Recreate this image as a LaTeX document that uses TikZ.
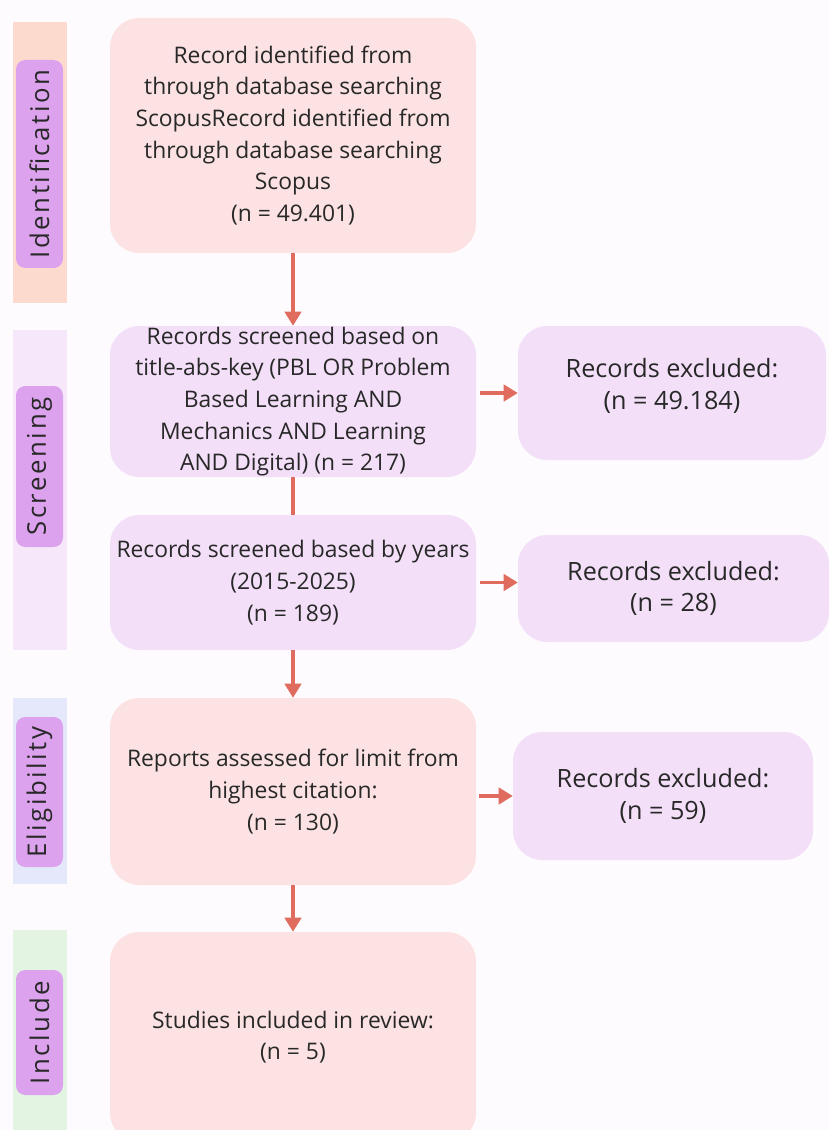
\documentclass[tikz,border=0pt]{standalone}
\usepackage{fontspec}
\setmainfont{Open Sans}
\newfontfamily\pillfont[LetterSpace=10]{Open Sans}
\usepackage{tikz}
\usetikzlibrary{arrows.meta}
\definecolor{pagebg}{RGB}{253,251,253}
\definecolor{pinkbox}{RGB}{252,226,226}
\definecolor{lilacbox}{RGB}{243,223,248}
\definecolor{barpeach}{RGB}{252,218,206}
\definecolor{barlilac}{RGB}{246,231,250}
\definecolor{barblue}{RGB}{228,232,250}
\definecolor{bargreen}{RGB}{227,244,227}
\definecolor{pill}{RGB}{221,162,237}
\definecolor{flow}{RGB}{224,108,96}
\definecolor{ink}{RGB}{40,40,40}
\tikzset{
  stagebox/.style={rounded corners=25pt, inner sep=0pt, align=center, text=ink,
    font=\fontsize{19.5}{27}\selectfont},
  exclbox/.style={stagebox, fill=lilacbox, font=\fontsize{21.5}{27}\selectfont},
  stagepill/.style={rounded corners=8pt, fill=pill, inner sep=0pt, text=ink,
    font=\pillfont\fontsize{22}{24}\selectfont, rotate=90},
  flowline/.style={draw=flow, line width=2.6pt},
  flowarrow/.style={flowline, -{Triangle[width=14pt,length=12pt]}}
}

\begin{document}
\begin{tikzpicture}[x=0.03cm,y=-0.03cm]
\useasboundingbox (0,0) rectangle (829,1130);
\clip (0,0) rectangle (829,1130);
\fill[pagebg] (0,0) rectangle (829,1130);
% stage bars on the left
\fill[barpeach] (13,22) rectangle (67,303);
\fill[barlilac] (13,330) rectangle (67,650);
\fill[barblue] (13,698) rectangle (67,884);
\fill[bargreen] (13,930) rectangle (67,1135);
\node[stagepill, minimum width=208*0.03cm, minimum height=47*0.03cm](pident) at (39.5,164) {Identification};
\node[stagepill, minimum width=161*0.03cm, minimum height=47*0.03cm](pscreen) at (39.5,466.5) {Screening};
\node[stagepill, minimum width=150*0.03cm, minimum height=47*0.03cm](pelig) at (39.5,792) {Eligibility};
\node[stagepill, minimum width=125*0.03cm, minimum height=47*0.03cm](pincl) at (39.5,1032.5) {Include};
%
\node[stagebox, fill=pinkbox, minimum width=366*0.03cm, minimum height=235*0.03cm](ident) at (293,135.5)
  {Record identified from\\ through database searching\\ ScopusRecord identified from\\ through database searching\\ Scopus\\ (n = 49.401)};
\node[stagebox, fill=lilacbox, minimum width=366*0.03cm, minimum height=151*0.03cm](title) at (293,401.5)
  {Records screened based on\\ title-abs-key (PBL OR Problem\\ Based Learning AND\\ Mechanics AND Learning\\ AND Digital) (n = 217)};
\node[stagebox, fill=lilacbox, minimum width=366*0.03cm, minimum height=135*0.03cm](years) at (293,582.5)
  {Records screened based by years\\ (2015-2025)\\ (n = 189)};
\node[stagebox, fill=pinkbox, minimum width=366*0.03cm, minimum height=187*0.03cm](assess) at (293,791.5)
  {Reports assessed for limit from\\ highest citation:\\ (n = 130)};
\node[stagebox, fill=pinkbox, minimum width=366*0.03cm, minimum height=210*0.03cm](incl) at (293,1037)
  {Studies included in review:\\ (n = 5)};
%
\node[exclbox, minimum width=308*0.03cm, minimum height=134*0.03cm](excla) at (672,393)
  {Records excluded:\\ (n = 49.184)\\[-12pt]};
\node[exclbox, minimum width=311*0.03cm, minimum height=107*0.03cm](exclb) at (673.5,588.5)
  {Records excluded:\\ (n = 28)};
\node[exclbox, minimum width=300*0.03cm, minimum height=128*0.03cm](exclc) at (663,796)
  {Records excluded:\\ (n = 59)};
%
\draw[flowarrow](ident.south) -- (title.north);
\draw[flowline](title.south) -- (years.north);
\draw[flowarrow](years.south) -- (assess.north);
\draw[flowarrow](assess.south) -- (incl.north);
\draw[flowarrow]([xshift=3pt]title.east |- excla.west) -- (excla.west);
\draw[flowarrow]([xshift=3pt]years.east) -- (years.east -| exclb.west);
\draw[flowarrow]([xshift=2pt]assess.east |- exclc.west) -- (exclc.west);
\end{tikzpicture}
\end{document}
